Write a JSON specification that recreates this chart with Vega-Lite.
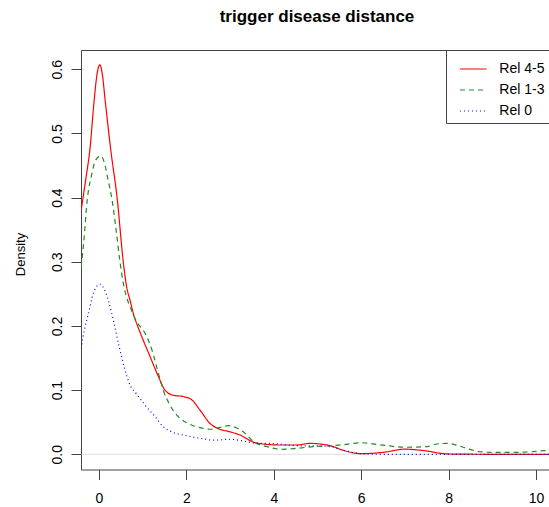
{
  "$schema": "https://vega.github.io/schema/vega-lite/v6.json",
  "autosize": {"type": "none"},
  "padding": {"left": 81, "top": 50, "right": 0, "bottom": 37.5},
  "width": 468,
  "height": 419.5,
  "title": {"text": "trigger disease distance", "fontSize": 17, "fontWeight": "bold", "font": "Liberation Sans", "anchor": "middle", "frame": "group", "baseline": "alphabetic", "offset": 11, "dx": 2, "color": "black"},
  "config": {"view": {"stroke": null}, "font": "Liberation Sans"},
  "resolve": {"axis": {"x": "independent"}},
  "layer": [
    {
      "data": {"values": [{}]},
      "mark": {"type": "rule", "color": "#bbbbbb", "strokeWidth": 0.5},
      "encoding": {
        "y": {"datum": 0, "type": "quantitative", "scale": {"domain": [-0.0237, 0.63], "nice": false, "zero": false}},
        "x": {"datum": -0.412, "type": "quantitative", "scale": {"domain": [-0.412, 10.297], "nice": false, "zero": false},
          "axis": {"orient": "top", "labels": false, "ticks": false, "domain": true, "domainColor": "#444", "domainWidth": 1, "title": null, "grid": false}},
        "x2": {"datum": 10.297}
      }
    },
    {
      "data": {"values": [
        {"g": "Rel 4-5", "x": -0.41, "y": 0.38},
        {"g": "Rel 4-5", "x": -0.3, "y": 0.43},
        {"g": "Rel 4-5", "x": -0.21, "y": 0.474},
        {"g": "Rel 4-5", "x": -0.11, "y": 0.552},
        {"g": "Rel 4-5", "x": -0.05, "y": 0.59},
        {"g": "Rel 4-5", "x": 0.02, "y": 0.607},
        {"g": "Rel 4-5", "x": 0.08, "y": 0.59},
        {"g": "Rel 4-5", "x": 0.14, "y": 0.552},
        {"g": "Rel 4-5", "x": 0.27, "y": 0.474},
        {"g": "Rel 4-5", "x": 0.42, "y": 0.396},
        {"g": "Rel 4-5", "x": 0.555, "y": 0.3},
        {"g": "Rel 4-5", "x": 0.63, "y": 0.262},
        {"g": "Rel 4-5", "x": 0.71, "y": 0.24},
        {"g": "Rel 4-5", "x": 0.8, "y": 0.216},
        {"g": "Rel 4-5", "x": 0.9, "y": 0.197},
        {"g": "Rel 4-5", "x": 1.01, "y": 0.178},
        {"g": "Rel 4-5", "x": 1.17, "y": 0.152},
        {"g": "Rel 4-5", "x": 1.36, "y": 0.121},
        {"g": "Rel 4-5", "x": 1.51, "y": 0.1},
        {"g": "Rel 4-5", "x": 1.7, "y": 0.092},
        {"g": "Rel 4-5", "x": 1.93, "y": 0.09},
        {"g": "Rel 4-5", "x": 2.12, "y": 0.085},
        {"g": "Rel 4-5", "x": 2.31, "y": 0.069},
        {"g": "Rel 4-5", "x": 2.54, "y": 0.048},
        {"g": "Rel 4-5", "x": 2.73, "y": 0.04},
        {"g": "Rel 4-5", "x": 3.0, "y": 0.035},
        {"g": "Rel 4-5", "x": 3.23, "y": 0.03},
        {"g": "Rel 4-5", "x": 3.53, "y": 0.019},
        {"g": "Rel 4-5", "x": 3.76, "y": 0.016},
        {"g": "Rel 4-5", "x": 4.14, "y": 0.0145},
        {"g": "Rel 4-5", "x": 4.52, "y": 0.0145},
        {"g": "Rel 4-5", "x": 4.83, "y": 0.017},
        {"g": "Rel 4-5", "x": 5.06, "y": 0.016},
        {"g": "Rel 4-5", "x": 5.29, "y": 0.0134},
        {"g": "Rel 4-5", "x": 5.6, "y": 0.006},
        {"g": "Rel 4-5", "x": 6.0, "y": 0.001},
        {"g": "Rel 4-5", "x": 6.5, "y": 0.003},
        {"g": "Rel 4-5", "x": 7.0, "y": 0.008},
        {"g": "Rel 4-5", "x": 7.4, "y": 0.006},
        {"g": "Rel 4-5", "x": 8.0, "y": 0.0005},
        {"g": "Rel 4-5", "x": 9.0, "y": 0},
        {"g": "Rel 4-5", "x": 10.5, "y": 0},
        {"g": "Rel 1-3", "x": -0.41, "y": 0.292},
        {"g": "Rel 1-3", "x": -0.35, "y": 0.33},
        {"g": "Rel 1-3", "x": -0.27, "y": 0.396},
        {"g": "Rel 1-3", "x": -0.17, "y": 0.435},
        {"g": "Rel 1-3", "x": -0.08, "y": 0.458},
        {"g": "Rel 1-3", "x": 0.04, "y": 0.465},
        {"g": "Rel 1-3", "x": 0.12, "y": 0.455},
        {"g": "Rel 1-3", "x": 0.2, "y": 0.43},
        {"g": "Rel 1-3", "x": 0.3, "y": 0.396},
        {"g": "Rel 1-3", "x": 0.4, "y": 0.345},
        {"g": "Rel 1-3", "x": 0.48, "y": 0.3},
        {"g": "Rel 1-3", "x": 0.56, "y": 0.265},
        {"g": "Rel 1-3", "x": 0.63, "y": 0.245},
        {"g": "Rel 1-3", "x": 0.71, "y": 0.23},
        {"g": "Rel 1-3", "x": 0.86, "y": 0.207},
        {"g": "Rel 1-3", "x": 1.05, "y": 0.189},
        {"g": "Rel 1-3", "x": 1.21, "y": 0.163},
        {"g": "Rel 1-3", "x": 1.36, "y": 0.126},
        {"g": "Rel 1-3", "x": 1.47, "y": 0.1},
        {"g": "Rel 1-3", "x": 1.62, "y": 0.077},
        {"g": "Rel 1-3", "x": 1.81, "y": 0.059},
        {"g": "Rel 1-3", "x": 2.04, "y": 0.048},
        {"g": "Rel 1-3", "x": 2.31, "y": 0.0415},
        {"g": "Rel 1-3", "x": 2.54, "y": 0.039},
        {"g": "Rel 1-3", "x": 2.77, "y": 0.042},
        {"g": "Rel 1-3", "x": 2.96, "y": 0.0446},
        {"g": "Rel 1-3", "x": 3.15, "y": 0.041},
        {"g": "Rel 1-3", "x": 3.34, "y": 0.033},
        {"g": "Rel 1-3", "x": 3.53, "y": 0.02},
        {"g": "Rel 1-3", "x": 3.84, "y": 0.012},
        {"g": "Rel 1-3", "x": 4.18, "y": 0.0078},
        {"g": "Rel 1-3", "x": 4.52, "y": 0.0093},
        {"g": "Rel 1-3", "x": 4.9, "y": 0.012},
        {"g": "Rel 1-3", "x": 5.29, "y": 0.0134},
        {"g": "Rel 1-3", "x": 5.6, "y": 0.015},
        {"g": "Rel 1-3", "x": 6.0, "y": 0.018},
        {"g": "Rel 1-3", "x": 6.4, "y": 0.015},
        {"g": "Rel 1-3", "x": 7.0, "y": 0.011},
        {"g": "Rel 1-3", "x": 7.5, "y": 0.012},
        {"g": "Rel 1-3", "x": 7.73, "y": 0.016},
        {"g": "Rel 1-3", "x": 7.96, "y": 0.017},
        {"g": "Rel 1-3", "x": 8.2, "y": 0.014},
        {"g": "Rel 1-3", "x": 8.41, "y": 0.0093},
        {"g": "Rel 1-3", "x": 8.72, "y": 0.004},
        {"g": "Rel 1-3", "x": 9.0, "y": 0.003},
        {"g": "Rel 1-3", "x": 9.48, "y": 0.003},
        {"g": "Rel 1-3", "x": 10.0, "y": 0.0045},
        {"g": "Rel 1-3", "x": 10.17, "y": 0.0056},
        {"g": "Rel 1-3", "x": 10.5, "y": 0.005},
        {"g": "Rel 0", "x": -0.41, "y": 0.165},
        {"g": "Rel 0", "x": -0.33, "y": 0.195},
        {"g": "Rel 0", "x": -0.24, "y": 0.22},
        {"g": "Rel 0", "x": -0.13, "y": 0.251},
        {"g": "Rel 0", "x": -0.05, "y": 0.262},
        {"g": "Rel 0", "x": 0.02, "y": 0.265},
        {"g": "Rel 0", "x": 0.09, "y": 0.261},
        {"g": "Rel 0", "x": 0.16, "y": 0.251},
        {"g": "Rel 0", "x": 0.29, "y": 0.22},
        {"g": "Rel 0", "x": 0.46, "y": 0.168},
        {"g": "Rel 0", "x": 0.58, "y": 0.135},
        {"g": "Rel 0", "x": 0.71, "y": 0.108},
        {"g": "Rel 0", "x": 0.86, "y": 0.094},
        {"g": "Rel 0", "x": 1.05, "y": 0.077},
        {"g": "Rel 0", "x": 1.28, "y": 0.059},
        {"g": "Rel 0", "x": 1.47, "y": 0.043},
        {"g": "Rel 0", "x": 1.7, "y": 0.034},
        {"g": "Rel 0", "x": 2.0, "y": 0.029},
        {"g": "Rel 0", "x": 2.31, "y": 0.025},
        {"g": "Rel 0", "x": 2.62, "y": 0.022},
        {"g": "Rel 0", "x": 3.0, "y": 0.0234},
        {"g": "Rel 0", "x": 3.3, "y": 0.0207},
        {"g": "Rel 0", "x": 3.61, "y": 0.017},
        {"g": "Rel 0", "x": 3.91, "y": 0.017},
        {"g": "Rel 0", "x": 4.3, "y": 0.0145},
        {"g": "Rel 0", "x": 4.75, "y": 0.013},
        {"g": "Rel 0", "x": 5.0, "y": 0.013},
        {"g": "Rel 0", "x": 5.29, "y": 0.012},
        {"g": "Rel 0", "x": 5.6, "y": 0.006},
        {"g": "Rel 0", "x": 6.0, "y": 0.001},
        {"g": "Rel 0", "x": 6.5, "y": 0},
        {"g": "Rel 0", "x": 10.5, "y": 0}
      ]},
      "mark": {"type": "line", "clip": true, "strokeWidth": 1.2, "interpolate": "monotone"},
      "encoding": {
        "x": {"field": "x", "type": "quantitative",
          "axis": {"orient": "bottom", "values": [0, 2, 4, 6, 8, 10], "title": null, "grid": false, "tickSize": 10, "tickColor": "#444", "domainColor": "#444", "labelFontSize": 14, "labelFont": "Liberation Sans", "labelColor": "black", "labelBaseline": "alphabetic", "labelPadding": 23, "labelFlush": false, "labelOverlap": false}},
        "y": {"field": "y", "type": "quantitative",
          "axis": {"values": [0, 0.1, 0.2, 0.3, 0.4, 0.5, 0.6], "format": ".1f", "title": "Density", "titleFont": "Liberation Sans", "titleFontSize": 13, "titleFontWeight": "normal", "titleColor": "black", "titleAngle": -90, "titleAlign": "center", "titleBaseline": "alphabetic", "titleX": -56.5, "titleY": 204, "grid": false, "tickSize": 10, "tickColor": "#444", "domainColor": "#444", "labelFontSize": 14, "labelFont": "Liberation Sans", "labelColor": "black", "labelAngle": -90, "labelAlign": "center", "labelBaseline": "alphabetic", "labelPadding": 10, "labelFlush": false, "labelOverlap": false}},
        "color": {"field": "g", "type": "nominal", "sort": ["Rel 4-5", "Rel 1-3", "Rel 0"],
          "scale": {"domain": ["Rel 4-5", "Rel 1-3", "Rel 0"], "range": ["#ff0000", "#228b22", "#0000ff"]},
          "legend": {"title": null, "orient": "none", "legendX": 365, "legendY": 0, "strokeColor": "#444", "fillColor": "white", "padding": 5, "symbolType": "stroke", "symbolSize": 713, "symbolStrokeWidth": 1.2, "labelFontSize": 14, "labelFont": "Liberation Sans", "labelColor": "black", "labelOffset": 12, "rowPadding": -14, "symbolOffset": 8.3}},
        "strokeDash": {"field": "g", "type": "nominal", "sort": ["Rel 4-5", "Rel 1-3", "Rel 0"],
          "scale": {"domain": ["Rel 4-5", "Rel 1-3", "Rel 0"], "range": [[1, 0], [5, 4], [1, 3]]},
          "legend": {"title": null, "orient": "none", "legendX": 365, "legendY": 0, "strokeColor": "#444", "fillColor": "white", "padding": 5, "symbolType": "stroke", "symbolSize": 713, "symbolStrokeWidth": 1.2, "labelFontSize": 14, "labelFont": "Liberation Sans", "labelColor": "black", "labelOffset": 12, "rowPadding": -14, "symbolOffset": 8.3}}
      }
    }
  ]
}
